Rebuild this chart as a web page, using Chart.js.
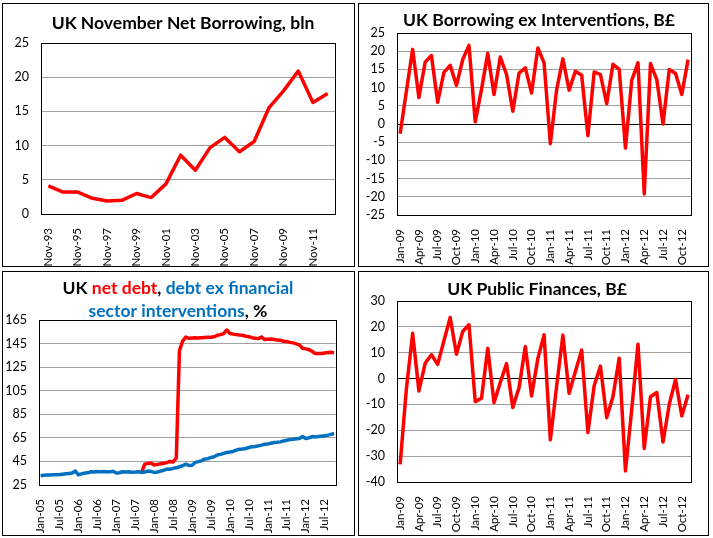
<!DOCTYPE html>
<html>
<head>
<meta charset="utf-8">
<script src="https://cdn.jsdelivr.net/npm/chart.js@4/dist/chart.umd.min.js"></script>
<style>
  body { margin: 0; background: #fff; width: 713px; height: 538px; position: relative; overflow: hidden; }
  .panel { position: absolute; border: 1px solid #000; box-sizing: border-box; background: #fff; }
</style>
</head>
<body>
<div class="panel" style="left:2px;top:3px;width:353px;height:264px"><canvas id="c1"></canvas></div>
<div class="panel" style="left:358px;top:3px;width:351px;height:264px"><canvas id="c2"></canvas></div>
<div class="panel" style="left:2px;top:271px;width:353px;height:265px"><canvas id="c3"></canvas></div>
<div class="panel" style="left:358px;top:271px;width:351px;height:265px"><canvas id="c4"></canvas></div>
<script>
const MONTHS = ['Jan','Feb','Mar','Apr','May','Jun','Jul','Aug','Sep','Oct','Nov','Dec'];
function monthLabels(year, month, count) {
  const out = [];
  for (let i = 0; i < count; i++) {
    const m = (month + i) % 12, y = year + Math.floor((month + i) / 12);
    out.push(MONTHS[m] + '-' + String(y % 100).padStart(2, '0'));
  }
  return out;
}

// top left: November net borrowing
const novLabels = ['Nov-93','Nov-94','Nov-95','Nov-96','Nov-97','Nov-98','Nov-99','Nov-00','Nov-01','Nov-02',
                   'Nov-03','Nov-04','Nov-05','Nov-06','Nov-07','Nov-08','Nov-09','Nov-10','Nov-11','Nov-12'];
const novBorrowing = [4.1, 3.2, 3.2, 2.3, 1.9, 2.0, 3.0, 2.4, 4.4, 8.6,
                      6.4, 9.7, 11.2, 9.1, 10.6, 15.5, 18.0, 20.9, 16.3, 17.6];

// top right + bottom right: Jan-09 .. Nov-12
const monthly09 = monthLabels(2009, 0, 47);
const exInterventions = [-2.7, 9.0, 20.5, 7.3, 17.0, 18.8, 6.0, 14.2, 16.1, 10.6, 17.7, 21.6,
                         0.6, 9.5, 19.4, 8.1, 18.4, 13.6, 3.5, 14.0, 15.4, 8.5, 20.9, 16.8,
                         -5.4, 9.4, 17.9, 9.3, 14.5, 13.4, -3.2, 14.3, 13.6, 5.6, 16.4, 15.0,
                         -6.6, 12.0, 16.8, -19.2, 16.6, 12.2, 0.0, 15.0, 13.9, 8.1, 17.7];
const publicFinances = [-33.2, -4.0, 17.5, -4.8, 5.9, 9.2, 5.5, 14.6, 23.6, 9.4, 18.2, 20.8,
                        -8.9, -7.6, 11.7, -9.3, -1.5, 5.8, -11.2, -3.5, 12.4, -6.7, 7.7, 16.9,
                        -23.7, -3.0, 16.8, -5.7, 2.7, 11.0, -20.9, -2.8, 4.8, -15.1, -7.0, 7.9,
                        -35.7, -12.0, 13.3, -27.0, -7.0, -5.4, -24.5, -9.9, -0.4, -14.5, -6.3];

// bottom left: Jan-05 .. Oct-12
const monthly05 = monthLabels(2005, 0, 94);
const debtExFinancial = [32.9, 33.2, 33.4, 33.5, 33.6, 33.7, 33.9, 34.2, 34.5, 34.8,
                         35.1, 36.8, 33.7, 34.5, 35.1, 35.3, 36.3, 36.0, 36.4, 36.2,
                         36.5, 36.2, 36.3, 36.6, 35.1, 35.4, 36.3, 36.0, 36.2, 35.9,
                         36.0, 36.2, 35.7, 36.0, 36.8, 36.5, 35.7, 36.0, 36.8, 37.5,
                         38.5, 38.3, 39.1, 39.6, 40.5, 41.3, 42.7, 41.6, 41.8, 44.2,
                         44.8, 45.5, 47.0, 47.3, 48.4, 48.9, 50.4, 51.0, 51.8, 52.6,
                         53.0, 53.5, 54.6, 55.4, 55.6, 56.0, 56.8, 57.4, 57.6, 58.2,
                         58.8, 59.6, 59.8, 60.5, 61.0, 61.2, 61.6, 62.4, 63.0, 63.5,
                         63.8, 64.2, 64.4, 66.1, 64.4, 65.0, 66.1, 65.8, 66.1, 66.4,
                         66.7, 67.3, 68.0, 68.7];
const netDebt = [null, null, null, null, null, null, null, null, null, null,
                 null, null, null, null, null, null, null, null, null, null,
                 null, null, null, null, null, null, null, null, null, null,
                 null, null, 35.7, 42.7, 43.3, 43.6, 42.0, 42.5, 43.0, 43.5,
                 44.0, 45.0, 44.5, 48.0, 139.0, 147.0, 150.5, 149.5, 149.8, 150.0,
                 149.8, 150.0, 150.2, 150.3, 150.4, 150.8, 152.0, 152.6, 153.5, 156.5,
                 153.5, 153.0, 152.6, 152.2, 152.0, 151.2, 150.8, 150.0, 149.6, 149.2,
                 150.6, 148.4, 148.6, 148.8, 148.4, 148.0, 147.8, 147.0, 146.7, 146.0,
                 145.6, 144.8, 143.9, 141.1, 140.5, 139.9, 138.5, 136.5, 136.5, 136.5,
                 137.0, 137.5, 137.7, 137.1];

const RED = '#ff0000', BLUE = '#0070c0', GRID = '#a0a0a0';
const FONT = 'Lato, "Open Sans", sans-serif';

// plot area frame + multi colour title
const framePlugin = {
  id: 'frame',
  afterDraw(chart, args, opts) {
    const { ctx, chartArea: a } = chart;
    ctx.save();
    ctx.strokeStyle = '#000';
    ctx.lineWidth = 1;
    ctx.strokeRect(Math.round(a.left) + 0.5, Math.round(a.top) + 0.5,
                   Math.round(a.right - a.left), Math.round(a.bottom - a.top));
    // title
    ctx.font = 'bold 17.5px ' + FONT;
    ctx.textBaseline = 'middle';
    ctx.textAlign = 'left';
    opts.lines.forEach((line, li) => {
      const total = line.reduce((s, p) => s + ctx.measureText(p[0]).width, 0);
      let x = opts.cx - total / 2;
      line.forEach(([t, c]) => {
        ctx.fillStyle = c;
        ctx.fillText(t, x, opts.y[li]);
        x += ctx.measureText(t).width;
      });
    });
    ctx.restore();
  }
};

function makeChart(id, c) {
  return new Chart(document.getElementById(id), {
    type: 'line',
    data: {
      labels: c.labels,
      datasets: c.series.map(s => ({
        data: s.data,
        borderColor: s.color,
        borderWidth: 3.5,
        pointRadius: 0,
        tension: 0,
        borderJoinStyle: 'round',
        spanGaps: false
      }))
    },
    options: {
      responsive: true,
      maintainAspectRatio: false,
      animation: false,
      layout: { padding: { top: c.top, right: c.right, left: 0, bottom: 0 } },
      plugins: {
        legend: { display: false },
        tooltip: { enabled: false },
        frame: c.title
      },
      scales: {
        x: {
          offset: true,
          grid: { display: false },
          border: { display: false },
          ticks: {
            autoSkip: false, minRotation: 90, maxRotation: 90, padding: 6,
            color: '#000', font: { family: FONT, size: 11.5 },
            callback: (v, i) => i % c.every === 0 ? c.labels[i] : ''
          },
          afterFit: s => { s.height = c.xH; }
        },
        y: {
          min: c.min, max: c.max,
          grid: {
            drawTicks: false,
            color: ctx => ctx.tick && ctx.tick.value === 0 && c.min < 0 ? '#000' : GRID
          },
          border: { display: false },
          ticks: { stepSize: c.step, padding: 12, color: '#000', font: { family: FONT, size: 12.5 } },
          afterFit: s => { s.width = c.yW; }
        }
      }
    },
    plugins: [framePlugin]
  });
}

makeChart('c1', {
  labels: novLabels, series: [{ data: novBorrowing, color: RED }],
  min: 0, max: 25, step: 5, every: 2,
  top: 39, right: 19, yW: 38, xH: 52,
  title: { cx: 180, y: [19], lines: [[['UK November Net Borrowing, bln', '#000']]] }
});

makeChart('c2', {
  labels: monthly09, series: [{ data: exInterventions, color: RED }],
  min: -25, max: 25, step: 5, every: 3,
  top: 29, right: 13, yW: 38, xH: 51,
  title: { cx: 180, y: [16], lines: [[['UK Borrowing ex Interventions, B£', '#000']]] }
});

makeChart('c3', {
  labels: monthly05,
  series: [{ data: debtExFinancial, color: BLUE }, { data: netDebt, color: RED }],
  min: 25, max: 165, step: 20, every: 6,
  top: 48, right: 18, yW: 36, xH: 50,
  title: { cx: 175, y: [16, 39], lines: [
    [['UK ', '#000'], ['net debt', RED], [', ', '#000'], ['debt ex financial', BLUE]],
    [['sector interventions', BLUE], [', %', '#000']]
  ] }
});

makeChart('c4', {
  labels: monthly09, series: [{ data: publicFinances, color: RED }],
  min: -40, max: 30, step: 10, every: 3,
  top: 29, right: 13, yW: 38, xH: 53,
  title: { cx: 178, y: [17], lines: [[['UK Public Finances, B£', '#000']]] }
});
</script>
</body>
</html>
